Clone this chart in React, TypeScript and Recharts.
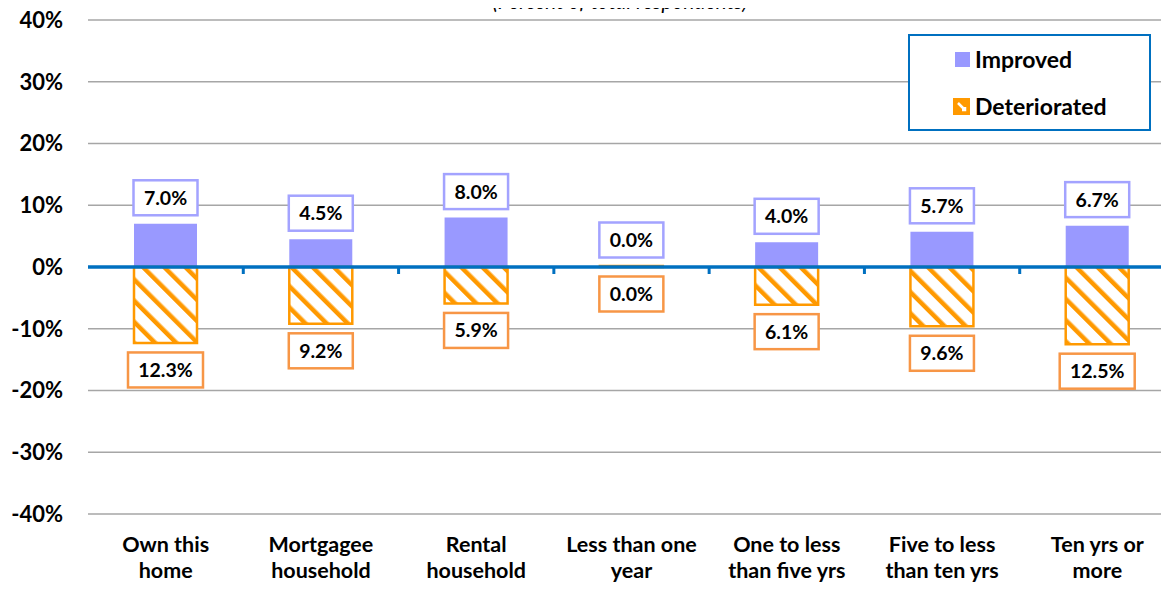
import React from "react";
import { Bar, BarChart, CartesianGrid, LabelList, Legend, ReferenceLine, XAxis, YAxis } from "recharts";

const categories = [
  "Own this\nhome",
  "Mortgagee\nhousehold",
  "Rental\nhousehold",
  "Less than one\nyear",
  "One to less\nthan five yrs",
  "Five to less\nthan ten yrs",
  "Ten yrs or\nmore",
];
const improved = [7.0, 4.5, 8.0, 0.0, 4.0, 5.7, 6.7];
const deteriorated = [12.3, 9.2, 5.9, 0.0, 6.1, 9.6, 12.5];
const yTicks = [-40, -30, -20, -10, 0, 10, 20, 30, 40];

const font = "Lato, 'Open Sans', sans-serif";
const blue = "#0070c0";
const violet = "#9999ff";
const violetBorder = "#a3a3ff";
const orange = "#ff9900";
const orangeBorder = "#f79646";

const data = categories.map((name, i) => ({
  name,
  improved: improved[i],
  deteriorated: -deteriorated[i],
}));

function CategoryTick({ x, y, payload }: any) {
  const lines = String(payload.value).split("\n");
  return (
    <g transform={`translate(${x},${y})`}>
      {lines.map((line, i) => (
        <text key={i} x={0} y={38 + i * 26} textAnchor="middle" fontFamily={font} fontWeight="bold" fontSize={21.5} fill="#000">
          {line}
        </text>
      ))}
    </g>
  );
}

function makeLabel(border: string, above: boolean) {
  return (props: any) => {
    const { x, y, width, height, value } = props;
    const v = Array.isArray(value) ? value[1] - value[0] : value;
    const text = `${Math.abs(Number(v)).toFixed(1)}%`;
    const top = Math.min(y, y + height);
    const bottom = Math.max(y, y + height);
    const cx = x + width / 2;
    const cy = above ? top - 26 : bottom + 27;
    const w = 20 + text.length * 11;
    const h = 35;
    return (
      <g>
        <rect x={cx - w / 2} y={cy - h / 2} width={w} height={h} fill="#fff" stroke={border} strokeWidth={2.5} />
        <text x={cx} y={cy + 7} textAnchor="middle" fontFamily={font} fontWeight="bold" fontSize={19.5} fill="#000">
          {text}
        </text>
      </g>
    );
  };
}

// zero line with the small category-boundary ticks hanging below it
function ZeroLine(props: any) {
  const { x1, x2, y1 } = props;
  const step = (x2 - x1) / categories.length;
  return (
    <g>
      <line x1={x1} x2={x2} y1={y1} y2={y1} stroke={blue} strokeWidth={3.5} />
      {categories.slice(1).map((_, i) => (
        <line key={i} x1={x1 + step * (i + 1)} x2={x1 + step * (i + 1)} y1={y1} y2={y1 + 7} stroke={blue} strokeWidth={3} />
      ))}
    </g>
  );
}

function LegendBox() {
  const row = { position: "absolute" as const, left: 45, display: "flex", alignItems: "center", gap: 5, lineHeight: "26px" };
  return (
    <div
      style={{
        position: "relative",
        width: 243,
        height: 97,
        boxSizing: "border-box",
        border: `2.5px solid ${blue}`,
        background: "#fff",
        fontFamily: font,
        fontWeight: "bold",
        fontSize: 23,
        color: "#000",
      }}
    >
      <div style={{ ...row, top: 10 }}>
        <div style={{ width: 15, height: 15, background: violet }} />
        <span>Improved</span>
      </div>
      <div style={{ ...row, top: 57, left: 43 }}>
        <svg width={17} height={17}>
          <rect x={0} y={0} width={17} height={17} fill={orange} />
          <path d="M5 5 L12 12 M9 12 L12 12 L12 9" stroke="#fff" strokeWidth={2.5} fill="none" />
        </svg>
        <span>Deteriorated</span>
      </div>
    </div>
  );
}

export default function App() {
  return (
    <div style={{ position: "relative", width: 1169, margin: -8, overflowX: "clip", background: "#fff" }}>
      <svg width={0} height={0} style={{ position: "absolute" }}>
        <defs>
          <pattern id="hatch" patternUnits="userSpaceOnUse" width={15} height={15} patternTransform="rotate(-45)">
            <rect x={0} y={0} width={15} height={15} fill="#fff" />
            <rect x={0} y={0} width={4.5} height={15} fill={orange} />
          </pattern>
        </defs>
      </svg>
      <div
        style={{
          position: "absolute",
          left: 0,
          width: 1240,
          top: -10,
          lineHeight: "22px",
          textAlign: "center",
          fontFamily: font,
          fontStyle: "italic",
          fontSize: 21,
          color: "#000",
        }}
      >
        (Percent of total respondents)
      </div>
      <BarChart
        width={1180}
        height={590}
        data={data}
        stackOffset="sign"
        barSize={63}
        margin={{ top: 20, right: 5, left: 0, bottom: 0 }}
      >
        <CartesianGrid vertical={false} stroke="#a6a6a6" strokeWidth={1.5} />
        <XAxis
          dataKey="name"
          axisLine={false}
          tickLine={false}
          tickSize={0}
          tickMargin={0}
          height={76}
          interval={0}
          tick={<CategoryTick />}
        />
        <YAxis
          domain={[-40, 40]}
          ticks={yTicks}
          width={88}
          axisLine={false}
          tickLine={false}
          tickSize={0}
          tickMargin={25}
          tickFormatter={(v) => `${v}%`}
          tick={{ fill: "#000", fontFamily: font, fontWeight: "bold", fontSize: 22 }}
        />
        <Legend
          layout="horizontal"
          verticalAlign="middle"
          align="center"
          wrapperStyle={{ left: 908, top: 34, width: 243, height: 97 }}
          content={() => <LegendBox />}
        />
        <Bar dataKey="improved" stackId="s" fill={violet} minPointSize={1} isAnimationActive={false}>
          <LabelList dataKey="improved" content={makeLabel(violetBorder, true)} />
        </Bar>
        <Bar
          dataKey="deteriorated"
          stackId="s"
          fill="url(#hatch)"
          stroke={orange}
          strokeWidth={2.5}
          minPointSize={1}
          isAnimationActive={false}
        >
          <LabelList dataKey="deteriorated" content={makeLabel(orangeBorder, false)} />
        </Bar>
        <ReferenceLine y={0} shape={<ZeroLine />} />
      </BarChart>
    </div>
  );
}
